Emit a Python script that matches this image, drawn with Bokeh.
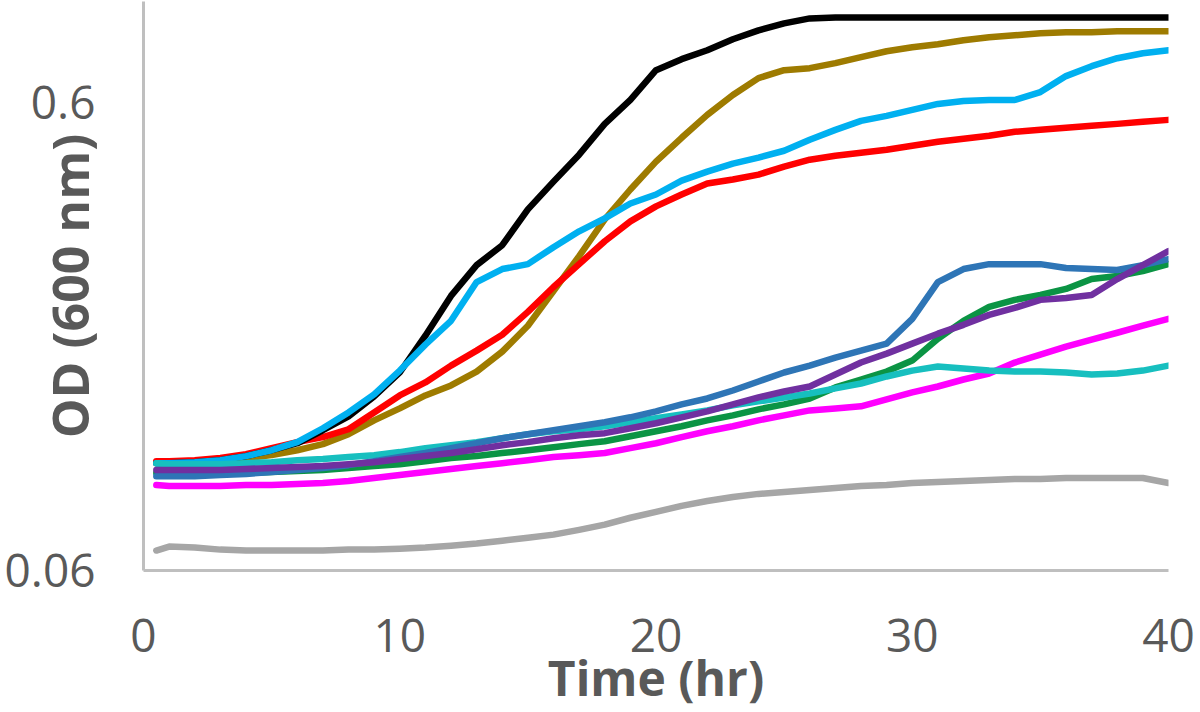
import math
from bokeh.plotting import figure
from bokeh.models import FixedTicker, CustomJSTickFormatter, Range1d
from bokeh.embed import file_html
from bokeh.resources import INLINE

# ---- data (OD600 vs time) ----
time_hr = [0.5, 1, 2, 3, 4, 5, 6, 7, 8, 9, 10, 11, 12, 13, 14, 15, 16, 17, 18, 19, 20,
           21, 22, 23, 24, 25, 26, 27, 28, 29, 30, 31, 32, 33, 34, 35, 36, 37, 38, 39, 40]

od_black = [0.1018, 0.1018, 0.1023, 0.1033, 0.1054, 0.1085, 0.1123, 0.1197, 0.1282, 0.1414, 0.1591,
            0.1907, 0.2320, 0.2700, 0.2978, 0.3552, 0.4074, 0.4651, 0.5413, 0.6089, 0.7053,
            0.7444, 0.7779, 0.8210, 0.8579, 0.8879, 0.9099, 0.9144, 0.9144, 0.9144, 0.9144,
            0.9144, 0.9144, 0.9144, 0.9144, 0.9144, 0.9144, 0.9144, 0.9144, 0.9144, 0.9144]

od_olive = [0.1023, 0.1023, 0.1028, 0.1039, 0.1044, 0.1059, 0.1085, 0.1118, 0.1174, 0.1257, 0.1333,
            0.1421, 0.1493, 0.1598, 0.1763, 0.2003, 0.2377, 0.2822, 0.3382, 0.3918, 0.4494,
            0.5055, 0.5657, 0.6240, 0.6782, 0.7053, 0.7123, 0.7299, 0.7517, 0.7741, 0.7894,
            0.8011, 0.8170, 0.8290, 0.8372, 0.8454, 0.8496, 0.8496, 0.8538, 0.8538, 0.8538]

od_skyblue = [0.1018, 0.1018, 0.1023, 0.1033, 0.1054, 0.1085, 0.1129, 0.1209, 0.1307, 0.1428, 0.1606,
              0.1825, 0.2052, 0.2484, 0.2648, 0.2713, 0.2949, 0.3189, 0.3399, 0.3658, 0.3823,
              0.4094, 0.4279, 0.4450, 0.4583, 0.4742, 0.5005, 0.5256, 0.5494, 0.5630, 0.5798,
              0.5971, 0.6059, 0.6089, 0.6089, 0.6332, 0.6849, 0.7192, 0.7480, 0.7665, 0.7779]

od_red = [0.1028, 0.1028, 0.1033, 0.1044, 0.1064, 0.1096, 0.1129, 0.1157, 0.1203, 0.1307, 0.1421,
          0.1515, 0.1646, 0.1772, 0.1916, 0.2145, 0.2424, 0.2713, 0.3037, 0.3349, 0.3605,
          0.3823, 0.4035, 0.4115, 0.4217, 0.4385, 0.4538, 0.4628, 0.4696, 0.4766, 0.4860,
          0.4956, 0.5030, 0.5104, 0.5205, 0.5256, 0.5308, 0.5361, 0.5413, 0.5467, 0.5521]

od_teal = [0.1018, 0.1013, 0.1013, 0.1013, 0.1018, 0.1023, 0.1033, 0.1039, 0.1049, 0.1059, 0.1075,
           0.1096, 0.1112, 0.1129, 0.1151, 0.1174, 0.1191, 0.1203, 0.1221, 0.1245, 0.1270,
           0.1294, 0.1320, 0.1353, 0.1380, 0.1407, 0.1435, 0.1471, 0.1507, 0.1560, 0.1606,
           0.1638, 0.1622, 0.1606, 0.1598, 0.1598, 0.1591, 0.1575, 0.1583, 0.1606, 0.1646]

od_blue = [0.0955, 0.0955, 0.0955, 0.0960, 0.0965, 0.0975, 0.0984, 0.0994, 0.1008, 0.1028, 0.1049,
           0.1070, 0.1096, 0.1123, 0.1151, 0.1174, 0.1197, 0.1221, 0.1245, 0.1276, 0.1314,
           0.1360, 0.1400, 0.1456, 0.1522, 0.1591, 0.1646, 0.1712, 0.1772, 0.1834, 0.2072,
           0.2484, 0.2648, 0.2713, 0.2713, 0.2713, 0.2661, 0.2648, 0.2635, 0.2700, 0.2781]

od_purple = [0.0984, 0.0984, 0.0984, 0.0984, 0.0989, 0.0994, 0.0999, 0.1004, 0.1013, 0.1023, 0.1039,
             0.1054, 0.1070, 0.1090, 0.1112, 0.1129, 0.1151, 0.1168, 0.1180, 0.1209, 0.1239,
             0.1276, 0.1314, 0.1360, 0.1407, 0.1449, 0.1485, 0.1575, 0.1671, 0.1746, 0.1834,
             0.1926, 0.2012, 0.2113, 0.2187, 0.2275, 0.2297, 0.2331, 0.2521, 0.2700, 0.2892]

od_green = [0.0970, 0.0970, 0.0965, 0.0965, 0.0970, 0.0975, 0.0979, 0.0984, 0.0994, 0.1004, 0.1013,
            0.1028, 0.1044, 0.1054, 0.1070, 0.1085, 0.1101, 0.1118, 0.1134, 0.1162, 0.1191,
            0.1221, 0.1257, 0.1288, 0.1327, 0.1360, 0.1400, 0.1478, 0.1537, 0.1598, 0.1687,
            0.1879, 0.2052, 0.2198, 0.2275, 0.2331, 0.2401, 0.2521, 0.2558, 0.2622, 0.2713]

od_magenta = [0.0914, 0.0910, 0.0910, 0.0910, 0.0914, 0.0914, 0.0919, 0.0923, 0.0932, 0.0946, 0.0960,
              0.0975, 0.0989, 0.1004, 0.1018, 0.1033, 0.1049, 0.1059, 0.1070, 0.1096, 0.1123,
              0.1157, 0.1191, 0.1221, 0.1257, 0.1288, 0.1320, 0.1333, 0.1347, 0.1394, 0.1442,
              0.1485, 0.1537, 0.1583, 0.1671, 0.1737, 0.1807, 0.1870, 0.1935, 0.2003, 0.2072]

od_gray = [0.0662, 0.0675, 0.0672, 0.0665, 0.0662, 0.0662, 0.0662, 0.0662, 0.0665, 0.0665, 0.0668,
           0.0672, 0.0678, 0.0685, 0.0695, 0.0705, 0.0716, 0.0733, 0.0752, 0.0778, 0.0801,
           0.0825, 0.0845, 0.0862, 0.0875, 0.0883, 0.0892, 0.0901, 0.0910, 0.0914, 0.0923,
           0.0928, 0.0932, 0.0937, 0.0942, 0.0942, 0.0946, 0.0946, 0.0946, 0.0946, 0.0923]

x_ticks = [0, 10, 20, 30, 40]
y_ticks = [0.06, 0.6]
x_title = "Time (hr)"
y_title = "OD (600 nm)"

series = [
    (od_gray, "#A6A6A6"),
    (od_olive, "#9E7B00"),
    (od_red, "#FF0000"),
    (od_black, "#000000"),
    (od_skyblue, "#00B0F0"),
    (od_magenta, "#FF00FF"),
    (od_green, "#0B9444"),
    (od_teal, "#17BFBF"),
    (od_blue, "#2E75B6"),
    (od_purple, "#7030A0"),
]

TEXT = "#595959"
FONT = "Open Sans"

p = figure(width=1200, height=712, y_axis_type="log",
           x_range=Range1d(0, 40), y_range=Range1d(0.06, 0.989),
           output_backend="svg", toolbar_location=None,
           min_border_left=143, min_border_right=32, min_border_top=1, min_border_bottom=139)

for ys, col in series:
    p.line(time_hr, ys, line_color=col, line_width=6.5, line_cap="round", line_join="round")

p.outline_line_color = None
p.grid.grid_line_color = None
p.background_fill_color = "white"
p.border_fill_color = "white"

for ax in (p.xaxis[0], p.yaxis[0]):
    ax.axis_line_color = "#BFBFBF"
    ax.axis_line_width = 3
    ax.major_tick_line_color = None
    ax.minor_tick_line_color = None
    ax.major_label_text_font = FONT
    ax.major_label_text_font_size = "46px"
    ax.major_label_text_color = TEXT
    ax.major_label_text_line_height = 0.8
    ax.axis_label_text_font = FONT
    ax.axis_label_text_font_style = "bold"
    ax.axis_label_text_color = TEXT
    ax.axis_label_text_line_height = 0.6

p.xaxis.ticker = FixedTicker(ticks=x_ticks)
p.xaxis.major_label_standoff = 42
p.xaxis.axis_label = x_title
p.xaxis.axis_label_text_font_size = "48px"
p.xaxis.axis_label_standoff = -10

p.yaxis.ticker = FixedTicker(ticks=y_ticks, minor_ticks=[])
p.yaxis.formatter = CustomJSTickFormatter(code="return String(tick);")
p.yaxis.major_label_standoff = 42
p.yaxis.axis_label = y_title
p.yaxis.axis_label_text_font_size = "50px"
p.yaxis.axis_label_standoff = -102

open("out.html", "w").write(file_html(p, INLINE))
